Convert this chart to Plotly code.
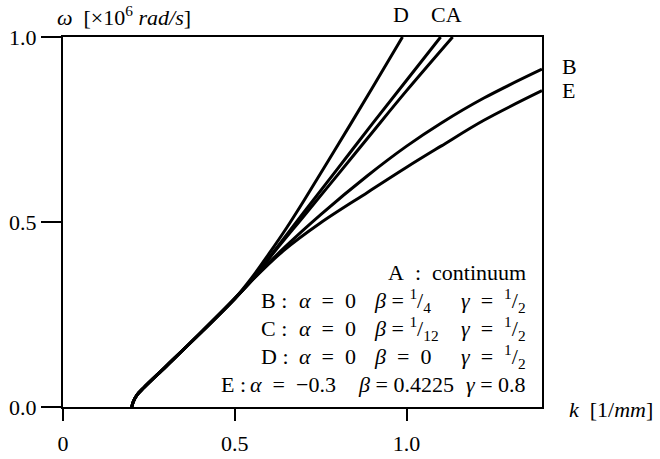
import plotly.graph_objects as go

# Dispersion curves: wavenumber k [1/mm] vs angular frequency omega [x10^6 rad/s]
# All branches share the low-wavenumber part starting at the cut-off k = 0.2
k_common = [0.200, 0.205, 0.215, 0.235, 0.30, 0.40, 0.50]
w_common = [0.000, 0.015, 0.032, 0.052, 0.110, 0.200, 0.293]

k_A = [0.55, 0.62, 0.70, 0.80, 0.90, 1.00, 1.134]
w_A = [0.343, 0.425, 0.515, 0.628, 0.742, 0.855, 1.000]

k_C = [0.55, 0.62, 0.70, 0.80, 0.90, 1.00, 1.099]
w_C = [0.344, 0.428, 0.525, 0.645, 0.765, 0.883, 1.000]

k_D = [0.55, 0.60, 0.65, 0.70, 0.80, 0.90, 0.988]
w_D = [0.350, 0.415, 0.483, 0.556, 0.708, 0.862, 1.000]

k_B = [0.55, 0.641, 0.75, 0.886, 1.00, 1.10, 1.225, 1.394]
w_B = [0.343, 0.428, 0.520, 0.625, 0.705, 0.767, 0.835, 0.913]

k_E = [0.55, 0.641, 0.75, 0.886, 1.00, 1.10, 1.225, 1.394]
w_E = [0.342, 0.422, 0.498, 0.580, 0.648, 0.705, 0.775, 0.855]

x_ticks = [0, 0.5, 1.0]
x_ticktext = ["0", "0.5", "1.0"]
y_ticks = [0.0, 0.5, 1.0]
y_ticktext = ["0.0", "0.5", "1.0"]

FONT = "Liberation Serif"
W, H = 660, 459
L, R, T, B = 63, 118, 37, 52
PW, PH = W - L - R, H - T - B
SP = "\u2002"  # en space for the wider spacing around relation signs

fig = go.Figure()
for ks, ws in [(k_A, w_A), (k_C, w_C), (k_D, w_D), (k_B, w_B), (k_E, w_E)]:
    fig.add_trace(go.Scatter(
        x=k_common + ks, y=w_common + ws, mode="lines",
        line=dict(color="black", width=3, shape="spline", smoothing=1.0),
        showlegend=False, hoverinfo="skip"))

axis_common = dict(showgrid=False, zeroline=False, showline=True, mirror=True,
                   linecolor="black", linewidth=2, ticks="outside", tickwidth=2,
                   tickcolor="black", automargin=False,
                   tickfont=dict(family=FONT, size=22, color="black"))

fig.update_layout(
    width=W, height=H,
    margin=dict(l=L, r=R, t=T, b=B, autoexpand=False),
    paper_bgcolor="white", plot_bgcolor="white",
    font=dict(family=FONT, size=22, color="black"),
    xaxis=dict(range=[0, 1.394], tickvals=x_ticks, ticktext=x_ticktext,
               ticklen=12, ticklabelstandoff=4, **axis_common),
    yaxis=dict(range=[0, 1.0], tickvals=y_ticks, ticktext=y_ticktext,
               ticklen=20, ticklabelstandoff=0, **axis_common),
)


def px(text, x, y, xanchor="left", size=22):
    """Place a text at figure pixel position (x, y) measured from the top-left."""
    fig.add_annotation(text=text, x=(x - L) / PW, y=(H - B - y) / PH,
                       xref="paper", yref="paper",
                       xanchor=xanchor, yanchor="middle", showarrow=False,
                       font=dict(family=FONT, size=size, color="black"))


def eq(sym, val, gap=SP):
    return "<i>" + sym + "</i>" + gap + "=" + gap + val


# Axis titles
px("<i>ω</i>" + SP + "[×10<sup>6</sup> <i>rad/s</i>]", 55, 16)
px("<i>k</i>" + SP + "[1/<i>mm</i>]", 567, 410)

# Curve labels
px("D", 401, 15, "center")
px("CA", 446, 15, "center")
px("B", 560, 67)
px("E", 560, 90)

# Parameter table
frac = "<sup>1</sup>/<sub>{}</sub>"
px("A" + SP + ":" + SP + "continuum", 528, 272, "right")
rows = [("B", 300, eq("β", frac.format(4), " ")),
        ("C", 328, eq("β", frac.format(12), " ")),
        ("D", 356, eq("β", "0"))]
for name, y, beta in rows:
    px(name + " :", 259, y)
    px(eq("α", "0"), 297, y)
    px(beta, 372, y)
    px(eq("γ", frac.format(2)), 528, y, "right")
px("E :", 219, 384)
px(eq("α", "−0.3"), 248, 384)
px(eq("β", "0.4225", " "), 356, 384)
px(eq("γ", "0.8", " "), 528, 384, "right")

fig.write_html("out.html")
